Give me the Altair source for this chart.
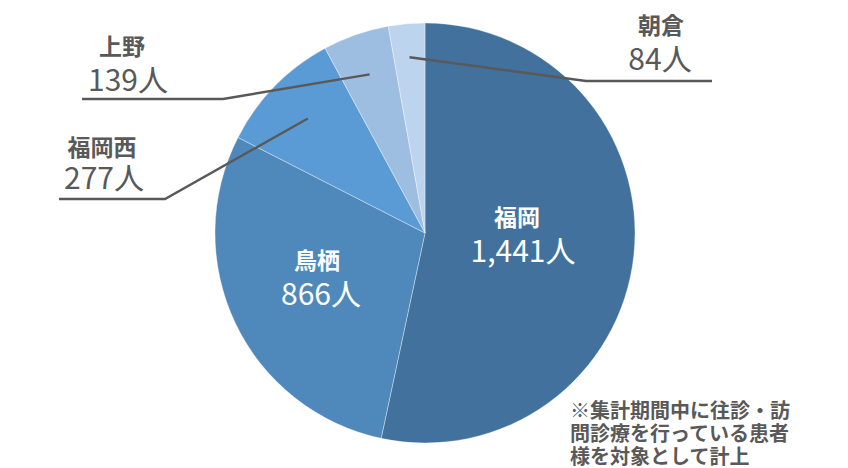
import math
import altair as alt
import pandas as pd

# ---- data ----
names = ["福岡", "鳥栖", "福岡西", "上野", "朝倉"]
values = [1441, 866, 277, 139, 84]
value_labels = ["1,441人", "866人", "277人", "139人", "84人"]
# slice shares (%) as drawn in the picture (measured slice angles)
slice_share = [53.4, 29.2, 9.6, 5.1, 2.8]
colors = ["#41719C", "#4F88BB", "#5B9BD5", "#9DBDE1", "#BDD4EE"]
note_text = "※集計期間中に往診・訪\n問診療を行っている患者\n様を対象として計上"

# ---- layout (page pixel coordinates) ----
OFF = 8
W, H = 832, 458
CX, CY, R = 425, 233, 210
name_pos = {"福岡": (517, 219), "鳥栖": (317, 262), "福岡西": (102, 149), "上野": (122, 48), "朝倉": (661, 27)}
value_pos = {"福岡": (523, 253), "鳥栖": (321, 296), "福岡西": (104, 180), "上野": (128, 82), "朝倉": (660, 61)}
inside = {"福岡", "鳥栖"}
leader = {  # radius fraction of start point, elbow, end
    "福岡西": (0.78, (165, 199), (59, 199)),
    "上野": (0.80, (223, 99), (82, 99)),
    "朝倉": (0.84, (586, 81), (712, 81)),
}

pie_df = pd.DataFrame({"name": names, "share": slice_share, "order": range(len(names))})

total = sum(slice_share)
cum = 0
mid = {}
for n, v in zip(names, slice_share):
    mid[n] = (cum + v / 2) / total * 2 * math.pi
    cum += v

name_rows, val_rows = [], []
for n, vl in zip(names, value_labels):
    col = "#FFFFFF" if n in inside else "#595959"
    nx, ny = name_pos[n]
    vx, vy = value_pos[n]
    name_rows.append({"x": nx - OFF, "y": ny - OFF, "t": n, "c": col})
    val_rows.append({"x": vx - OFF, "y": vy - OFF, "t": vl, "c": col})
name_df = pd.DataFrame(name_rows)
val_df = pd.DataFrame(val_rows)

line_rows = []
for n, (f, elbow, end) in leader.items():
    a = mid[n]
    sx = CX + f * R * math.sin(a)
    sy = CY - f * R * math.cos(a)
    for i, (px, py) in enumerate([(sx, sy), elbow, end]):
        line_rows.append({"name": n, "seq": i, "x": px - OFF, "y": py - OFF})
line_df = pd.DataFrame(line_rows)

note_df = pd.DataFrame({"x": [570 - OFF], "y": [402 - OFF], "t": [note_text]})

xs = alt.Scale(domain=[0, W], nice=False, zero=False)
ys = alt.Scale(domain=[0, H], nice=False, zero=False, reverse=True)

pie = alt.Chart(pie_df).mark_arc(outerRadius=R, stroke="#FFFFFF", strokeWidth=0.6, strokeOpacity=0.6).encode(
    theta=alt.Theta("share:Q", stack=True),
    order=alt.Order("order:Q"),
    color=alt.Color("name:N", scale=alt.Scale(domain=names, range=colors), legend=None),
    x=alt.value(CX - OFF),
    y=alt.value(CY - OFF),
)

lines = alt.Chart(line_df).mark_line(color="#595959", strokeWidth=2.4).encode(
    x=alt.X("x:Q", scale=xs, axis=None),
    y=alt.Y("y:Q", scale=ys, axis=None),
    detail="name:N",
    order="seq:Q",
)

name_text = alt.Chart(name_df).mark_text(
    font="Noto Sans CJK JP", fontSize=23, fontWeight="bold", baseline="middle", align="center"
).encode(
    x=alt.X("x:Q", scale=xs, axis=None),
    y=alt.Y("y:Q", scale=ys, axis=None),
    text="t:N",
    color=alt.Color("c:N", scale=None),
)

val_text = alt.Chart(val_df).mark_text(
    font="Noto Sans CJK JP", fontSize=30, baseline="middle", align="center"
).encode(
    x=alt.X("x:Q", scale=xs, axis=None),
    y=alt.Y("y:Q", scale=ys, axis=None),
    text="t:N",
    color=alt.Color("c:N", scale=None),
)

note = alt.Chart(note_df).mark_text(
    font="Noto Sans CJK JP", fontSize=20, fontWeight="bold", align="left", baseline="top",
    lineBreak="\n", lineHeight=23, color="#595959"
).encode(
    x=alt.X("x:Q", scale=xs, axis=None),
    y=alt.Y("y:Q", scale=ys, axis=None),
    text="t:N",
)

chart = alt.layer(pie, lines, name_text, val_text, note).properties(
    width=W, height=H, autosize=alt.AutoSizeParams(type="none"), padding=0
).configure_view(stroke=None)

chart.save("out.html", embed_options={"renderer": "svg", "actions": False})
